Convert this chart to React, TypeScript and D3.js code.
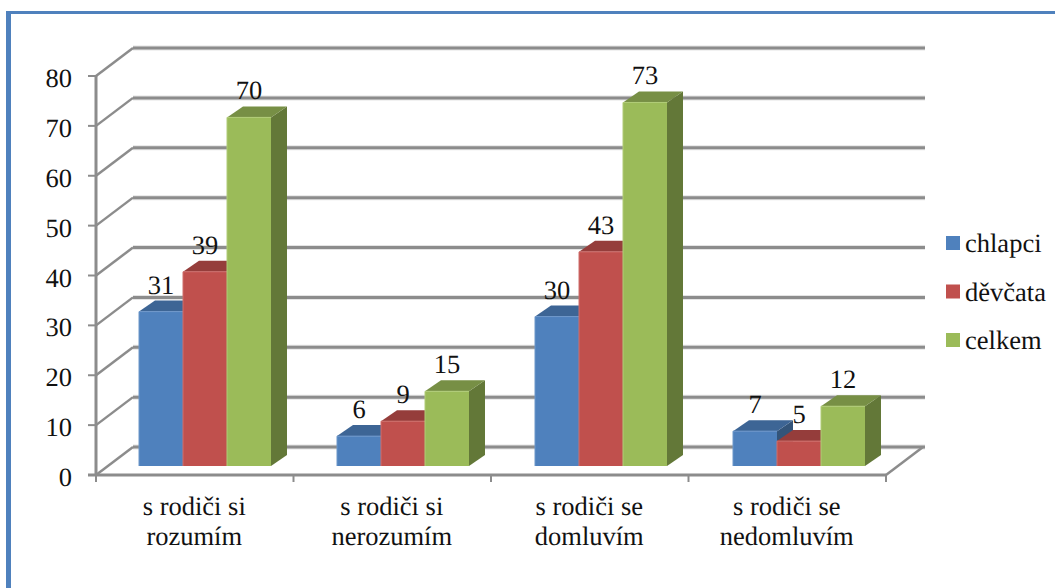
import React from "react";
import * as d3 from "d3";

const categories = [
  ["s rodiči si", "rozumím"],
  ["s rodiči si", "nerozumím"],
  ["s rodiči se", "domluvím"],
  ["s rodiči se", "nedomluvím"],
];
const seriesNames = ["chlapci", "děvčata", "celkem"];
const chlapci = [31, 6, 30, 7];
const devcata = [39, 9, 43, 5];
const celkem = [70, 15, 73, 12];
const yTicks = [0, 10, 20, 30, 40, 50, 60, 70, 80];

const seriesValues = [chlapci, devcata, celkem];
const front = ["#4f81bd", "#c0504d", "#9bbb59"];
const topFace = ["#3d6595", "#953d3b", "#778f45"];
const sideFace = ["#335479", "#7a3230", "#637838"];
const edge = ["#6d97c9", "#cf6f6c", "#b1cc78"];
const axisGrey = "#8c8c8c";
const serif = "'Liberation Serif', 'Times New Roman', serif";
const fontSize = 26.5;

// Front plane of the chart box and the depth offset of its back wall.
const yFront = d3.scaleLinear().domain([0, 80]).range([475, 76]);
const xFront = d3.scaleBand<number>().domain([0, 1, 2, 3]).range([96, 886]);
const depth = { dx: 37, dy: -28 };

// Bars stand in the middle of the floor, with a shallower depth of their own.
const yBar = d3.scaleLinear().domain([0, 80]).range([466, 67.6]);
const xBars = d3.scaleBand<number>().domain([0, 1, 2, 3]).range([139, 931]);
const barDepth = { dx: 16, dy: -11 };
const barWidth = 44;

export default function App() {
  const backRight = 886 + depth.dx;
  const poly = (pts: [number, number][]) => d3.line()(pts) + "Z";
  return (
    <svg
      width={1055}
      height={588}
      style={{ position: "absolute", left: 0, top: 0, background: "#fff" }}
      fontFamily={serif}
      fontSize={fontSize}
      fill="#111"
      textRendering="geometricPrecision"
    >
      {/* panel frame: left and top only */}
      <rect x={6} y={11} width={1049} height={3} fill="#4f81bd" />
      <rect x={6} y={11} width={5} height={577} fill="#4f81bd" />

      {/* back wall gridlines and their diagonals on the side wall */}
      {yTicks.map((t) => {
        const y = yFront(t);
        return (
          <g key={t}>
            <line x1={96 + depth.dx} x2={backRight + 2} y1={y + depth.dy} y2={y + depth.dy} stroke="#e4e4e4" strokeWidth={5} />
            <line x1={96 + depth.dx} x2={backRight + 2} y1={y + depth.dy} y2={y + depth.dy} stroke={axisGrey} strokeWidth={3} />
            <line x1={96} x2={96 + depth.dx} y1={y} y2={y + depth.dy} stroke={axisGrey} strokeWidth={2.5} />
            <line x1={88} x2={96} y1={y} y2={y} stroke={axisGrey} strokeWidth={2} />
            <text x={72} y={y + 11} textAnchor="end">{t}</text>
          </g>
        );
      })}

      {/* floor edge on the right, front axes and category ticks */}
      <line x1={886} x2={backRight} y1={475} y2={447} stroke={axisGrey} strokeWidth={2.5} />
      <line x1={96} x2={96} y1={76} y2={476} stroke={axisGrey} strokeWidth={3} />
      <line x1={88} x2={886} y1={475} y2={475} stroke={axisGrey} strokeWidth={3} />
      {[0, 1, 2, 3, 4].map((i) => {
        const x = i < 4 ? xFront(i)! : 886;
        return <line key={i} x1={x} x2={x} y1={475} y2={482} stroke={axisGrey} strokeWidth={2} />;
      })}

      {/* bars, one series after another so later fronts overlap earlier sides */}
      {categories.map((_, c) =>
        seriesValues.map((vals, s) => {
          const x0 = xBars(c)! + s * barWidth;
          const x1 = x0 + barWidth;
          const yt = yBar(vals[c]);
          const yb = yBar(0);
          const { dx, dy } = barDepth;
          return (
            <g key={`${c}-${s}`}>
              <path d={poly([[x1, yt], [x1 + dx, yt + dy], [x1 + dx, yb + dy], [x1, yb]])} fill={sideFace[s]} />
              <path d={poly([[x0, yt], [x0 + dx, yt + dy], [x1 + dx, yt + dy], [x1, yt]])} fill={topFace[s]} />
              <rect x={x0} y={yt} width={barWidth} height={yb - yt} fill={front[s]} />
              <path d={`M${x0},${yb}V${yt}H${x1}`} fill="none" stroke={edge[s]} strokeWidth={1} />
            </g>
          );
        })
      )}

      {/* value labels */}
      {categories.map((_, c) =>
        seriesValues.map((vals, s) => (
          <text key={`${c}-${s}`} x={xBars(c)! + s * barWidth + barWidth / 2} y={yBar(vals[c]) - 18} textAnchor="middle">
            {vals[c]}
          </text>
        ))
      )}

      {/* category labels on two lines */}
      {categories.map((lines, c) => (
        <text key={c} textAnchor="middle">
          {lines.map((l, i) => (
            <tspan key={i} x={xFront(c)! + xFront.bandwidth() / 2 - 0.5} y={515 + i * 30}>{l}</tspan>
          ))}
        </text>
      ))}

      {/* legend */}
      {seriesNames.map((n, i) => {
        const y = 236 + i * 48.5;
        return (
          <g key={n}>
            <rect x={946} y={y} width={14} height={14} fill={front[i]} />
            <text x={965} y={y + 16}>{n}</text>
          </g>
        );
      })}
    </svg>
  );
}
